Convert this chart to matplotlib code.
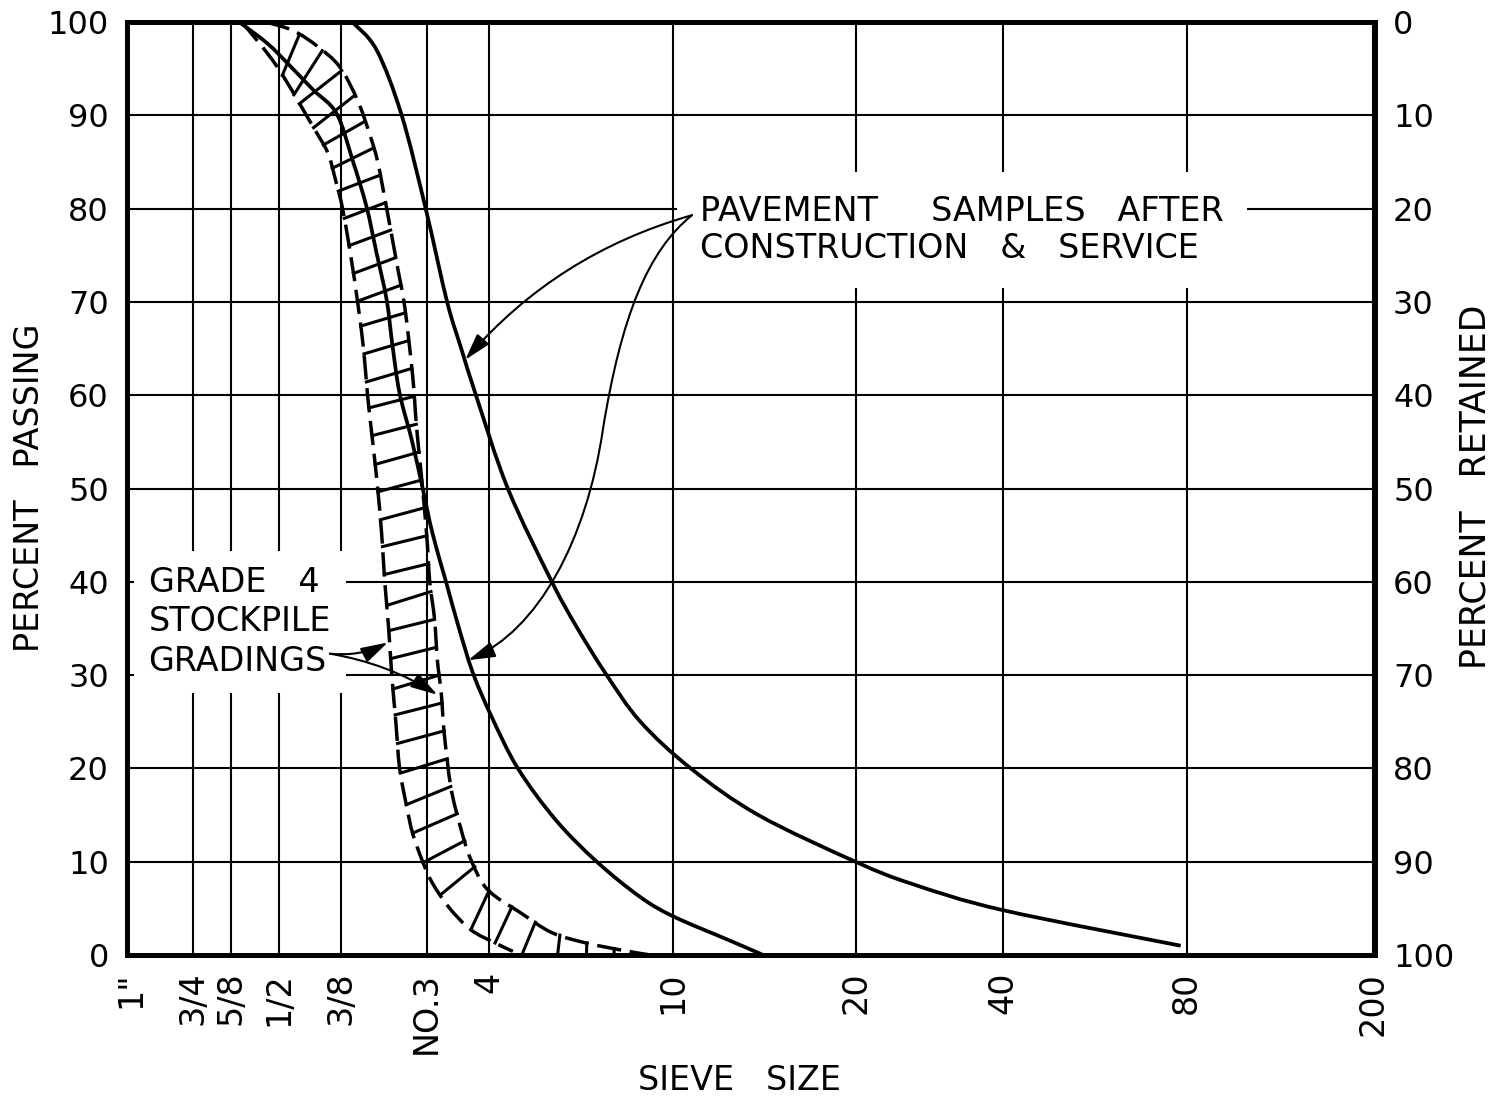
import numpy as np
import matplotlib
matplotlib.use('Agg')
import matplotlib.pyplot as plt
from matplotlib.path import Path
from matplotlib.patches import FancyArrowPatch, PathPatch
from matplotlib.ticker import NullLocator

plt.rcParams['font.family'] = 'DejaVu Sans'

# sieve openings (mm) and the labels printed under them
sieve_mm = [25.4, 19.0, 15.9, 12.7, 9.5, 6.35, 4.75, 2.0, 0.85, 0.425, 0.18, 0.075]
sieve_labels = ['1"', '3/4', '5/8', '1/2', '3/8', 'NO.3', '4', '10', '20', '40', '80', '200']
percent_ticks = list(range(0, 101, 10))

# pavement sample after construction & service (finer one)
pave_a_mm = [9.0, 8.03, 7.14, 6.38, 5.77, 5.40, 5.04, 4.34, 3.53, 3.13, 2.73,
             2.33, 1.84, 1.34, 0.85, 0.65, 0.425, 0.185]
pave_a_pct = [100, 97, 90, 80, 70, 65, 60, 50, 40, 35, 30,
              25, 20, 15, 10, 7.6, 4.8, 1.0]

# pavement sample after construction & service (coarser one)
pave_b_mm = [15.3, 13.4, 12.0, 10.8, 9.69, 8.99, 8.42, 8.03, 7.66, 7.45, 7.21, 6.81, 6.47,
             6.18, 5.80, 5.47, 5.11, 4.68, 4.14, 3.47, 2.86, 2.33, 1.99, 1.54, 1.31]
pave_b_pct = [100, 97.7, 95.2, 92.7, 90.2, 85.2, 80.2, 75.2, 70.2, 65.2, 60.2, 55.2, 50,
              45.2, 40, 35.2, 30.2, 25.5, 20, 14.5, 10, 6.2, 4.1, 1.6, 0]

# grade 4 stockpile gradings band (coarse and fine limits)
band_coarse_mm = [15.1, 12.8, 10.8, 10.1, 9.73, 9.42, 9.07, 8.78, 8.54, 8.38, 8.18, 7.99, 7.84,
                  7.73, 7.59, 7.48, 7.34, 7.21, 6.98, 6.78, 6.47, 6.18, 5.72, 5.16, 4.61, 4.24]
band_coarse_pct = [100, 95.2, 88.7, 86, 83, 80, 75, 70, 65, 60, 55, 50, 45,
                   40, 35, 30, 25, 20, 16, 13, 10, 7.7, 5.1, 2.7, 1.3, 0.4]
band_fine_mm = [13.5, 11.9, 10.6, 9.55, 8.78, 8.30, 7.99, 7.66, 7.28, 7.04, 6.78, 6.66, 6.50, 6.35,
                6.26, 6.12, 6.04, 5.93, 5.85, 5.67, 5.42, 5.16, 4.77, 4.08, 3.53, 3.01, 2.53, 2.22]
band_fine_pct = [100, 99.1, 97.4, 95.2, 91.6, 88, 85, 80, 73.7, 69.5, 62, 56.6, 51, 45,
                 40, 36, 31.6, 28, 23.8, 18, 13.7, 10.2, 7, 4.5, 2.4, 1.3, 0.5, 0]

# annotation anchors (mm, percent)
pave_text_at = (1.76, 77.7)
pave_tail = (1.83, 79.3)
pave_tip_a = (5.30, 63.8)
pave_s_curve = [(1.83, 79.3), (2.25, 75.5), (2.55, 68.5), (2.78, 56.3),
                (3.0, 44.5), (3.76, 34.8), (5.23, 31.6)]
grade_text_at = (23.4, 35.7)
grade_tail = (10.0, 32.3)
grade_tip_coarse = (7.62, 33.5)
grade_tip_fine = (6.04, 27.9)

fig = plt.figure(figsize=(14.95, 10.97), dpi=100)
ax = fig.add_axes([0.0849, 0.1294, 0.8348, 0.8505])
ax.set_xscale('log')
ax.set_xlim(25.9, 0.0744)
ax.set_ylim(0, 100)
ax.set_xticks(sieve_mm)
ax.set_xticklabels(sieve_labels, rotation=90, fontsize=24)
ax.xaxis.set_minor_locator(NullLocator())
ax.set_yticks(percent_ticks)
ax.set_yticklabels([str(v) for v in percent_ticks], fontsize=23)
ax.tick_params(length=0)
ax.tick_params(axis='x', pad=12)
ax.tick_params(axis='y', pad=13)
ax.set_axisbelow(True)
ax.grid(True, color='black', lw=1.5)
ax.get_xgridlines()[0].set_visible(False)  # 1" sits on the frame
for sp in ax.spines.values():
    sp.set_linewidth(3.5)

ax2 = ax.twinx()
ax2.set_ylim(100, 0)
ax2.set_yticks(percent_ticks)
ax2.set_yticklabels([str(v) for v in percent_ticks], fontsize=23)
ax2.tick_params(length=0, pad=13)
for sp in ax2.spines.values():
    sp.set_linewidth(3.5)

to_px = ax.transData.transform
to_data = ax.transData.inverted().transform


def smooth(xs, ys):
    # catmull-rom through the read points, built in pixel space
    p = to_px(np.column_stack([xs, ys]))
    n = len(p)
    verts, codes = [p[0]], [Path.MOVETO]
    for i in range(n - 1):
        p0 = p[i - 1] if i > 0 else p[i]
        p3 = p[i + 2] if i + 2 < n else p[i + 1]
        verts += [p[i] + (p[i + 1] - p0) / 6, p[i + 1] - (p3 - p[i]) / 6, p[i + 1]]
        codes += [Path.CURVE4] * 3
    return Path(to_data(np.array(verts)), codes)


# pavement curves
for xs, ys in [(pave_a_mm, pave_a_pct), (pave_b_mm, pave_b_pct)]:
    ax.add_patch(PathPatch(smooth(xs, ys), fill=False, ec='black', lw=2.7, zorder=3))

# stockpile band: dashed limits
for xs, ys in [(band_coarse_mm, band_coarse_pct), (band_fine_mm, band_fine_pct)]:
    ax.add_patch(PathPatch(smooth(xs, ys), fill=False, ec='black', lw=2.5,
                           ls=(0, (7, 2.5)), zorder=3))


def hit(p, d, poly):
    best = None
    for q0, q1 in zip(poly[:-1], poly[1:]):
        e = q1 - q0
        den = d[0] * e[1] - d[1] * e[0]
        if abs(den) < 1e-9:
            continue
        w = q0 - p
        u = (w[0] * e[1] - w[1] * e[0]) / den
        v = (w[0] * d[1] - w[1] * d[0]) / den
        if u > 0 and 0 <= v <= 1 and (best is None or u < best):
            best = u
    return best


# rungs: from the fine limit across to the coarse limit (or the base line)
pf = to_px(np.column_stack([band_fine_mm, band_fine_pct]))
pc = to_px(np.column_stack([band_coarse_mm, band_coarse_pct]))
sf = np.concatenate([[0], np.cumsum(np.hypot(*np.diff(pf, axis=0).T))])
y_base = to_px((1.0, 0.0))[1]
tilt = np.radians(10)
for s in np.arange(36, sf[-1] - 4, 28):
    p = np.array([np.interp(s, sf, pf[:, 0]), np.interp(s, sf, pf[:, 1])])
    q = np.array([np.interp(s + 3, sf, pf[:, 0]), np.interp(s + 3, sf, pf[:, 1])])
    t = (q - p) / np.hypot(*(q - p))
    n = np.array([t[1], -t[0]])
    d = np.array([n[0] * np.cos(tilt) - n[1] * np.sin(tilt),
                  n[0] * np.sin(tilt) + n[1] * np.cos(tilt)])
    u = hit(p, d, pc)
    if d[1] < 0:
        ub = (y_base - p[1]) / d[1]
        u = ub if u is None else min(u, ub)
    if u is None or u < 5 or u > 90:
        continue
    (x0, y0), (x1, y1) = to_data(np.array([p, p + u * d]))
    ax.plot([x0, x1], [y0, y1], color='black', lw=2.2, zorder=3)

# labels with white boxes that break the grid
ax.text(pave_text_at[0], pave_text_at[1],
        'PAVEMENT     SAMPLES   AFTER\nCONSTRUCTION   &   SERVICE',
        fontsize=24, ha='left', va='center', linespacing=1.13, zorder=2,
        bbox=dict(boxstyle='square,pad=0.7', fc='white', ec='none'))
ax.text(grade_text_at[0], grade_text_at[1], 'GRADE   4\nSTOCKPILE\nGRADINGS',
        fontsize=24, ha='left', va='center', linespacing=1.25, zorder=2,
        bbox=dict(boxstyle='square,pad=0.45', fc='white', ec='none'))

head = '-|>,head_length=0.55,head_width=0.16'
ax.annotate('', xy=pave_tip_a, xytext=pave_tail,
            arrowprops=dict(arrowstyle=head, mutation_scale=30, lw=1.5, color='black',
                            shrinkA=0, shrinkB=0, connectionstyle='arc3,rad=0.15'), zorder=4)
s_path = Path(pave_s_curve, [Path.MOVETO] + [Path.CURVE4] * 6)
ax.add_patch(FancyArrowPatch(path=s_path, arrowstyle=head, mutation_scale=30,
                             lw=1.5, color='black', zorder=4))
ax.annotate('', xy=grade_tip_coarse, xytext=grade_tail,
            arrowprops=dict(arrowstyle=head, mutation_scale=30, lw=1.5, color='black',
                            shrinkA=0, shrinkB=0, connectionstyle='arc3,rad=0.15'), zorder=4)
ax.annotate('', xy=grade_tip_fine, xytext=grade_tail,
            arrowprops=dict(arrowstyle=head, mutation_scale=30, lw=1.5, color='black',
                            shrinkA=0, shrinkB=0, connectionstyle='arc3,rad=-0.1'), zorder=4)

fig.text(30 / 1495, 1 - 488 / 1097, 'PERCENT   PASSING', rotation=90, fontsize=24,
         ha='center', va='center')
fig.text(1476 / 1495, 1 - 487 / 1097, 'PERCENT   RETAINED', rotation=90, fontsize=25,
         ha='center', va='center')
fig.text(740 / 1495, 1 - 1080 / 1097, 'SIEVE   SIZE', fontsize=24, ha='center', va='center')

fig.savefig('out.png', dpi=100)
